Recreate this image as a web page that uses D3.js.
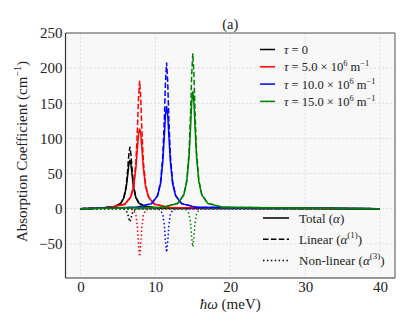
<!DOCTYPE html>
<html>
<head>
<meta charset="utf-8">
<script src="https://cdn.jsdelivr.net/npm/d3@7"></script>
<style>
	body { margin: 0; background: #fff; }
	svg text { font-family: "Liberation Serif", "DejaVu Serif", serif; fill: #222; }
	.grid line { stroke: #dcdcdc; stroke-width: 0.8; stroke-dasharray: 2.5,1.5; }
</style>
</head>
<body>
<div id="svg-container"></div>
<script>
// photon energy samples (meV), one grid per tau value
var energyTau0  = [0, 2.6, 4.6, 5.4, 5.8, 6.1, 6.3, 6.45, 6.6, 6.75, 6.9, 7.1, 7.4, 7.8, 8.6, 10.6, 40];
var energyTau5  = [0, 3.9, 5.9, 6.7, 7.1, 7.4, 7.6, 7.75, 7.9, 8.05, 8.2, 8.4, 8.7, 9.1, 9.9, 11.9, 40];
var energyTau10 = [0, 7.5, 9.5, 10.3, 10.7, 11.0, 11.2, 11.35, 11.5, 11.65, 11.8, 12.0, 12.3, 12.7, 13.5, 15.5, 40];
var energyTau15 = [0, 11.0, 13.0, 13.8, 14.2, 14.5, 14.7, 14.85, 15.0, 15.15, 15.3, 15.5, 15.8, 16.2, 17.0, 19.0, 40];

// absorption coefficient (cm^-1)
var totalTau0   = [0, 0.8, 3.1, 7.8, 15.6, 29.7, 47.2, 62.2, 69.5, 62.2, 47.2, 29.7, 15.6, 7.8, 3.1, 0.8, 0];
var linearTau0  = [0, 0.8, 3.1, 8.0, 16.2, 32.2, 54.2, 76.1, 88.0, 76.1, 54.2, 32.2, 16.2, 8.0, 3.1, 0.8, 0];
var nonlinTau0  = [0, 0, 0, -0.2, -0.6, -2.5, -7.0, -13.9, -18.5, -13.9, -7.0, -2.5, -0.6, -0.2, 0, 0, 0];

var totalTau5   = [0, 1.6, 6.3, 16.0, 31.2, 57.5, 86.3, 106.4, 114.0, 106.4, 86.3, 57.5, 31.2, 16.0, 6.3, 1.6, 0];
var linearTau5  = [0, 1.6, 6.4, 16.6, 33.5, 66.6, 112.1, 157.4, 182.0, 157.4, 112.1, 66.6, 33.5, 16.6, 6.4, 1.6, 0];
var nonlinTau5  = [0, 0, -0.1, -0.6, -2.3, -9.1, -25.8, -51.0, -68.0, -51.0, -25.8, -9.1, -2.3, -0.6, -0.1, 0, 0];

var totalTau10  = [0, 1.9, 7.2, 18.4, 36.2, 67.8, 104.5, 133.4, 146.0, 133.4, 104.5, 67.8, 36.2, 18.4, 7.2, 1.9, 0];
var linearTau10 = [0, 1.9, 7.3, 18.9, 38.3, 76.1, 128.1, 179.9, 208.0, 179.9, 128.1, 76.1, 38.3, 18.9, 7.3, 1.9, 0];
var nonlinTau10 = [0, 0, -0.1, -0.5, -2.1, -8.3, -23.6, -46.5, -62.0, -46.5, -23.6, -8.3, -2.1, -0.5, -0.1, 0, 0];

var totalTau15  = [0, 2.0, 7.6, 19.7, 38.9, 73.7, 115.6, 150.7, 167.0, 150.7, 115.6, 73.7, 38.9, 19.7, 7.6, 2.0, 0];
var linearTau15 = [0, 2.0, 7.7, 20.1, 40.7, 80.9, 136.1, 191.2, 221.0, 191.2, 136.1, 80.9, 40.7, 20.1, 7.7, 2.0, 0];
var nonlinTau15 = [0, 0, -0.1, -0.5, -1.8, -7.2, -20.5, -40.5, -54.0, -40.5, -20.5, -7.2, -1.8, -0.5, -0.1, 0, 0];

var xTicks = [0, 10, 20, 30, 40];
var yTicks = [-50, 0, 50, 100, 150, 200, 250];
var tauMantissa = [null, "5.0", "10.0", "15.0"];
var tauColors = ["#000000", "#ff0000", "#0000ff", "#008000"];

var _outerSize = { width: 412, height: 330 };
var _margin = { top: 33, bottom: 52, left: 65.5, right: 17 };
var _innerSize = {
	width:  _outerSize.width  - _margin.left - _margin.right,
	height: _outerSize.height - _margin.top  - _margin.bottom };

var _xScale = d3.scaleLinear().domain([-2, 42]).range([0, _innerSize.width]);
var _yScale = d3.scaleLinear().domain([-98.6, 250]).range([_innerSize.height, 0]);

var dashStyles = { total: null, linear: "5.5,2.4", nonlin: "1.5,2.4" };

var seriesList = [
	{ e: energyTau0,  y: [totalTau0,  linearTau0,  nonlinTau0]  },
	{ e: energyTau5,  y: [totalTau5,  linearTau5,  nonlinTau5]  },
	{ e: energyTau10, y: [totalTau10, linearTau10, nonlinTau10] },
	{ e: energyTau15, y: [totalTau15, linearTau15, nonlinTau15] }
];

var svg = d3.select("#svg-container").append("svg")
	.attr("width", _outerSize.width)
	.attr("height", _outerSize.height);

var chart = svg.append("g")
	.attr("transform", "translate(" + _margin.left + "," + _margin.top + ")");

// plot background
chart.append("rect")
	.attr("width", _innerSize.width)
	.attr("height", _innerSize.height)
	.attr("fill", "#f8f8f8");

// grid
var grid = chart.append("g").attr("class", "grid");
grid.selectAll(".gx").data(xTicks).enter().append("line")
	.attr("x1", function(d) { return _xScale(d); })
	.attr("x2", function(d) { return _xScale(d); })
	.attr("y1", 0).attr("y2", _innerSize.height);
grid.selectAll(".gy").data(yTicks).enter().append("line")
	.attr("y1", function(d) { return _yScale(d); })
	.attr("y2", function(d) { return _yScale(d); })
	.attr("x1", 0).attr("x2", _innerSize.width);

// curves
var lineFunction = d3.line()
	.x(function(d) { return _xScale(d[0]); })
	.y(function(d) { return _yScale(d[1]); })
	.curve(d3.curveLinear);

var styleKeys = ["total", "linear", "nonlin"];
seriesList.forEach(function(s, i) {
	s.y.forEach(function(vals, k) {
		var pts = s.e.map(function(e, j) { return [e, vals[j]]; });
		chart.append("path")
			.datum(pts)
			.attr("d", lineFunction)
			.attr("fill", "none")
			.attr("stroke", tauColors[i])
			.attr("stroke-width", 1.5)
			.attr("stroke-dasharray", dashStyles[styleKeys[k]]);
	});
});

// spines
chart.append("line").attr("x1", 0).attr("x2", _innerSize.width).attr("y1", 0).attr("y2", 0)
	.attr("stroke", "#8a8a8a").attr("stroke-width", 1.5);
chart.append("line").attr("x1", _innerSize.width).attr("x2", _innerSize.width).attr("y1", 0).attr("y2", _innerSize.height)
	.attr("stroke", "#8a8a8a").attr("stroke-width", 1.5);
chart.append("line").attr("x1", 0).attr("x2", 0).attr("y1", 0).attr("y2", _innerSize.height)
	.attr("stroke", "#333").attr("stroke-width", 1.2);
chart.append("line").attr("x1", 0).attr("x2", _innerSize.width).attr("y1", _innerSize.height).attr("y2", _innerSize.height)
	.attr("stroke", "#333").attr("stroke-width", 1.2);

// axes (labels only, no tick marks)
var xAxis = d3.axisBottom(_xScale).tickValues(xTicks).tickSize(0).tickPadding(3);
var yAxis = d3.axisLeft(_yScale).tickValues(yTicks).tickSize(0).tickPadding(3)
	.tickFormat(function(d) { return d < 0 ? "\u2212" + Math.abs(d) : d; });

chart.append("g").attr("class", "x axis")
	.attr("transform", "translate(0," + _innerSize.height + ")")
	.call(xAxis)
	.call(function(g) { g.select(".domain").remove(); })
	.selectAll("text").attr("font-size", "15px").attr("fill", "#222").attr("dy", "0.71em");

chart.append("g").attr("class", "y axis")
	.call(yAxis)
	.call(function(g) { g.select(".domain").remove(); })
	.selectAll("text").attr("font-size", "15px").attr("fill", "#222");

// axis labels
var xLabel = svg.append("text")
	.attr("x", _margin.left + _innerSize.width / 2)
	.attr("y", 309)
	.attr("text-anchor", "middle")
	.attr("font-size", "15px");
xLabel.append("tspan").attr("font-style", "italic").text("\u0127\u03c9");
xLabel.append("tspan").text(" (meV)");

var yLabel = svg.append("text")
	.attr("transform", "translate(27," + (_margin.top + _innerSize.height / 2 - 4) + ") rotate(-90)")
	.attr("text-anchor", "middle")
	.attr("font-size", "15px");
yLabel.append("tspan").text("Absorption Coefficient (cm");
yLabel.append("tspan").attr("font-size", "10px").attr("dy", "-6").text("\u22121");
yLabel.append("tspan").attr("dy", "6").text(")");

// title
svg.append("text")
	.attr("x", _margin.left + _innerSize.width / 2)
	.attr("y", 29)
	.attr("text-anchor", "middle")
	.attr("font-size", "14.5px")
	.text("(a)");

// legend 1: tau values
var legend1 = svg.append("g").attr("transform", "translate(260,49.5)");
tauColors.forEach(function(c, i) {
	var row = legend1.append("g").attr("transform", "translate(0," + (i * 17.3) + ")");
	row.append("line").attr("x1", 0).attr("x2", 15).attr("stroke", c).attr("stroke-width", 1.5);
	var t = row.append("text").attr("x", 24).attr("y", 4.5).attr("font-size", "12.5px");
	t.append("tspan").attr("font-style", "italic").text("\u03c4");
	if (tauMantissa[i] === null) {
		t.append("tspan").text(" = 0");
	} else {
		t.append("tspan").text(" = " + tauMantissa[i] + " \u00d7 10");
		t.append("tspan").attr("font-size", "8.5px").attr("dy", "-5").text("6");
		t.append("tspan").attr("dy", "5").text(" m");
		t.append("tspan").attr("font-size", "8.5px").attr("dy", "-5").text("\u22121");
	}
});

// legend 2: line styles
var styleLabels = [["Total (", "", ")"], ["Linear (", "(1)", ")"], ["Non-linear (", "(3)", ")"]];
var legend2 = svg.append("g").attr("transform", "translate(263,218)");
styleKeys.forEach(function(k, i) {
	var row = legend2.append("g").attr("transform", "translate(0," + (i * 21.2) + ")");
	row.append("line").attr("x1", 0).attr("x2", 26).attr("stroke", "#000").attr("stroke-width", 1.5)
		.attr("stroke-dasharray", dashStyles[k]);
	var t = row.append("text").attr("x", 36).attr("y", 4.5).attr("font-size", "13px");
	t.append("tspan").text(styleLabels[i][0]);
	t.append("tspan").attr("font-style", "italic").text("\u03b1");
	if (styleLabels[i][1]) {
		t.append("tspan").attr("font-size", "9px").attr("dy", "-5.5").text(styleLabels[i][1]);
		t.append("tspan").attr("dy", "5.5").text(styleLabels[i][2]);
	} else {
		t.append("tspan").text(styleLabels[i][2]);
	}
});
</script>
</body>
</html>
